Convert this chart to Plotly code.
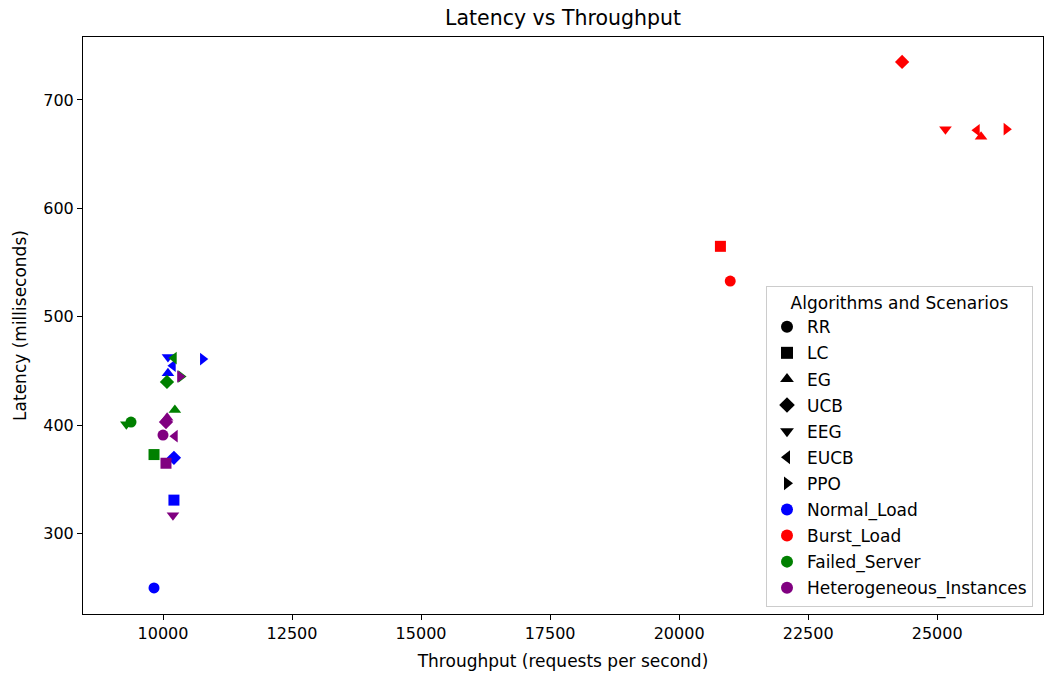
import plotly.graph_objects as go

algorithms = ["RR", "LC", "EG", "UCB", "EEG", "EUCB", "PPO"]
symbols = ["circle", "square", "triangle-up", "diamond", "triangle-down", "triangle-left", "triangle-right"]
scenarios = ["Normal_Load", "Burst_Load", "Failed_Server", "Heterogeneous_Instances"]
colors = ["blue", "red", "green", "purple"]

# throughput (req/s) and latency (ms) per algorithm, order = algorithms
normal_tp = [9826, 10212, 10096, 10212, 10096, 10193, 10771]
normal_lat = [250, 331, 448, 370, 463, 455, 461]
burst_tp = [20990, 20800, 25850, 24320, 25160, 25770, 26340]
burst_lat = [533, 565, 666, 735, 673, 672, 673]
failed_tp = [9380, 9826, 10230, 10077, 9290, 10212, 10350]
failed_lat = [403, 373, 414, 440, 401, 462, 445]
hetero_tp = [10000, 10058, 10080, 10058, 10193, 10231, 10328]
hetero_lat = [391, 365, 407, 403, 317, 390, 445]

x_ticks = [10000, 12500, 15000, 17500, 20000, 22500, 25000]
y_ticks = [300, 400, 500, 600, 700]

tp = [normal_tp, burst_tp, failed_tp, hetero_tp]
lat = [normal_lat, burst_lat, failed_lat, hetero_lat]

fig = go.Figure()
for s, c, xs, ys in zip(scenarios, colors, tp, lat):
    for a, sym, x, y in zip(algorithms, symbols, xs, ys):
        fig.add_trace(go.Scatter(x=[x], y=[y], mode="markers", showlegend=False,
                                 marker=dict(symbol=sym, color=c, size=11, line=dict(width=0)),
                                 name=f"{a} - {s}"))

for a, sym in zip(algorithms, symbols):
    fig.add_trace(go.Scatter(x=[None], y=[None], mode="markers", name=a, legendgroup=a,
                             marker=dict(symbol=sym, color="black", size=9)))
for s, c in zip(scenarios, colors):
    fig.add_trace(go.Scatter(x=[None], y=[None], mode="markers", name=s, legendgroup=s,
                             marker=dict(symbol="circle", color=c, size=10)))

axis_common = dict(showline=True, linecolor="black", linewidth=1, mirror=True,
                   ticks="outside", ticklen=5, tickcolor="black", showgrid=False,
                   zeroline=False, automargin=False, tickfont=dict(size=16, color="black"))

fig.update_layout(
    width=1045, height=674,
    margin=dict(l=83, r=2, t=37, b=60),
    paper_bgcolor="white", plot_bgcolor="white",
    font=dict(family="DejaVu Sans", color="black"),
    title=dict(text="Latency vs Throughput", x=(83 + 1043) / 2 / 1045, xanchor="center",
               yref="container", y=1 - 18 / 674, yanchor="middle",
               font=dict(size=20.5)),
    xaxis=dict(title=dict(text="Throughput (requests per second)", font=dict(size=17), standoff=12),
               range=[8450, 27050], tickvals=x_ticks, ticktext=[str(v) for v in x_ticks],
               **axis_common),
    yaxis=dict(title=dict(text="Latency (milliseconds)", font=dict(size=17), standoff=12),
               range=[226, 758], tickvals=y_ticks, ticktext=[str(v) for v in y_ticks],
               **axis_common),
    legend=dict(title=dict(text="Algorithms and Scenarios", side="top center", font=dict(size=17)),
                x=(766 - 83) / (1043 - 83), xanchor="left", y=0.012, yanchor="bottom",
                bgcolor="rgba(255,255,255,0.85)", bordercolor="#cccccc", borderwidth=1,
                font=dict(size=17), itemsizing="constant", tracegroupgap=1,
                traceorder="grouped"),
)

post = ("document.documentElement.style.margin='0';document.body.style.margin='0';"
        "document.body.style.overflow='hidden';"
        "var gd=document.getElementById('{plot_id}');Plotly.relayout(gd,{width:1045,height:674});")

fig.write_html("out.html", post_script=post, config={"displayModeBar": False})
